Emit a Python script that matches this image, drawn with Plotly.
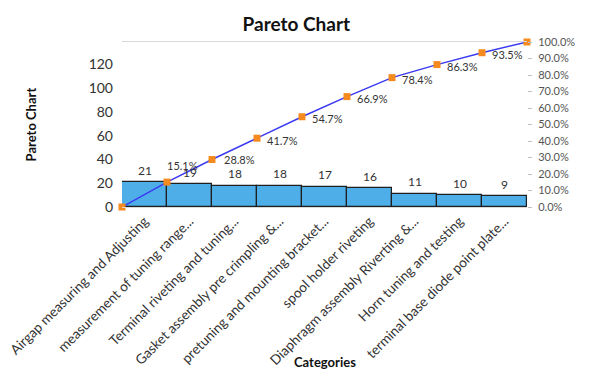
import plotly.graph_objects as go

# Defect counts per operation (sorted descending, Pareto order)
categories = [
    "Airgap measuring and Adjusting",
    "measurement of tuning range...",
    "Terminal riveting and tuning...",
    "Gasket assembly pre crimpling &...",
    "pretuning and mounting bracket...",
    "spool holder riveting",
    "Diaphragm assembly Riverting &...",
    "Horn tuning and testing",
    "terminal base diode point plate...",
]
counts = [21, 19, 18, 18, 17, 16, 11, 10, 9]

# Cumulative share, starting at 0 at the left edge of the first bar
cum_pct = [0.0, 0.151, 0.288, 0.417, 0.547, 0.669, 0.784, 0.863, 0.935, 1.0]
cum_labels = ["", "15.1%", "28.8%", "41.7%", "54.7%", "66.9%", "78.4%", "86.3%", "93.5%", ""]

FONT = "Lato, Carlito, Liberation Sans, sans-serif"

bar_x = [i + 0.5 for i in range(len(counts))]
line_x = list(range(len(cum_pct)))

fig = go.Figure()

fig.add_trace(go.Bar(
    x=bar_x,
    y=counts,
    width=1,
    marker=dict(color="#4DAEE8", line=dict(color="#1f1f1f", width=1.2)),
    showlegend=False,
))

fig.add_trace(go.Scatter(
    x=line_x,
    y=cum_pct,
    yaxis="y2",
    mode="lines+markers",
    line=dict(color="#3a3af2", width=1.5),
    marker=dict(symbol="square", size=7, color="#F58A1F"),
    cliponaxis=False,
    showlegend=False,
))

annotations = []

# Value labels above each bar
for x, v in zip(bar_x, counts):
    annotations.append(dict(
        x=x, y=v, xref="x", yref="y", text=str(v), showarrow=False,
        xanchor="center", yanchor="middle", yshift=12,
        font=dict(family=FONT, size=12, color="#333333"),
    ))

# Cumulative percentage labels beside the markers
for i, (x, p, t) in enumerate(zip(line_x, cum_pct, cum_labels)):
    if not t:
        continue
    if i == 1:
        pos = dict(xanchor="left", yanchor="middle", xshift=-2, yshift=17)
    elif i == 2:
        pos = dict(xanchor="left", yanchor="middle", xshift=10, yshift=0)
    else:
        pos = dict(xanchor="left", yanchor="middle", xshift=8, yshift=-2)
    annotations.append(dict(
        x=x, y=p, xref="x", yref="y2", text=t, showarrow=False,
        font=dict(family=FONT, size=11, color="#333333"), **pos,
    ))

annotations += [
    dict(
        text="<b>Pareto Chart</b>", xref="paper", yref="paper",
        x=-0.225, y=0.5, textangle=-90, showarrow=False,
        xanchor="center", yanchor="middle",
        font=dict(family=FONT, size=13, color="#111111"),
    ),
    dict(
        text="<b>Categories</b>", xref="paper", yref="paper",
        x=0.5, y=-0.94, showarrow=False,
        xanchor="center", yanchor="middle",
        font=dict(family=FONT, size=13, color="#111111"),
    ),
]

fig.update_layout(
    width=611,
    height=372,
    margin=dict(l=122, r=84, t=42, b=165, autoexpand=False),
    paper_bgcolor="white",
    plot_bgcolor="white",
    font=dict(family=FONT, color="#333333"),
    title=dict(
        text="<b>Pareto Chart</b>",
        x=0.485, xanchor="center", y=0.935, yanchor="middle",
        font=dict(family=FONT, size=19, color="#111111"),
    ),
    bargap=0,
    xaxis=dict(
        range=[0, len(counts)],
        tickvals=bar_x,
        ticktext=categories,
        tickangle=-45,
        tickfont=dict(family=FONT, size=13.6, color="#333333"),
        showgrid=False,
        showline=True,
        linecolor="#d9d9d9",
        mirror=True,
        zeroline=False,
        ticks="",
        automargin=False,
    ),
    yaxis=dict(
        range=[0, 139],
        tickvals=[0, 20, 40, 60, 80, 100, 120],
        tickfont=dict(family=FONT, size=14, color="#333333"),
        showgrid=False,
        zeroline=False,
        showline=False,
        ticks="",
        ticklabelstandoff=8,
        automargin=False,
    ),
    yaxis2=dict(
        overlaying="y",
        side="right",
        range=[0, 1],
        tickvals=[i / 10 for i in range(11)],
        tickformat=".1%",
        tickfont=dict(family=FONT, size=11, color="#555555"),
        showgrid=False,
        zeroline=False,
        showline=False,
        ticks="outside",
        ticklen=4,
        tickcolor="#bfbfbf",
        ticklabelstandoff=4,
        automargin=False,
    ),
    annotations=annotations,
)

fig.write_html("out.html")
